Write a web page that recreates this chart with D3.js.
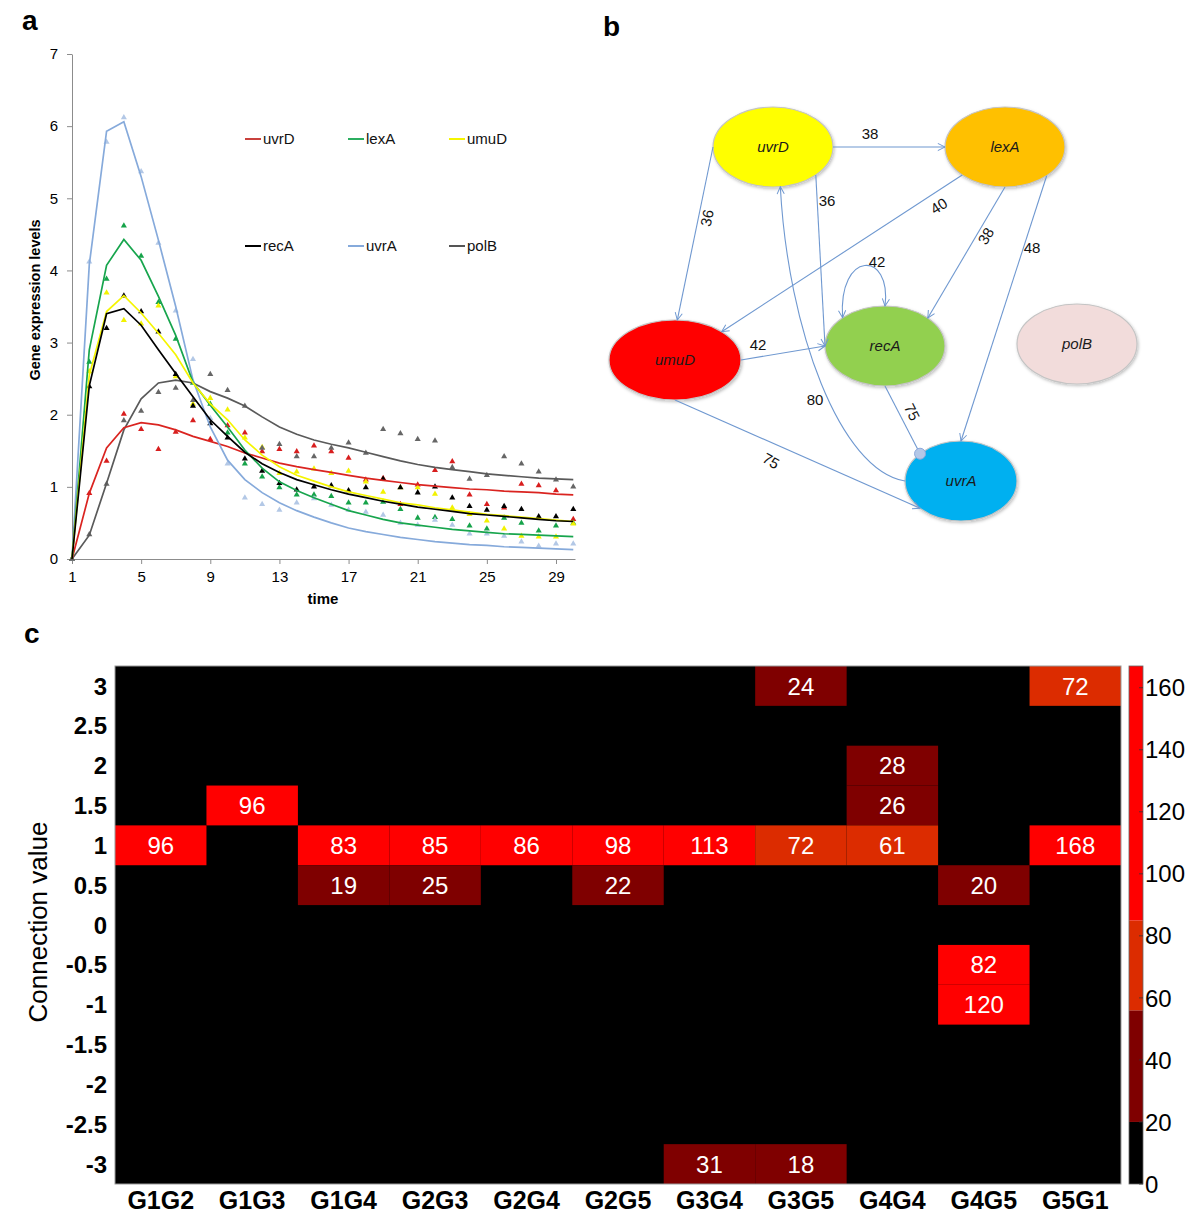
<!DOCTYPE html>
<html><head><meta charset="utf-8">
<script src="https://cdn.jsdelivr.net/npm/d3@7"></script>
<style>body{margin:0;background:#fff}svg{display:block;font-family:"Liberation Sans",Arial,sans-serif}</style>
</head><body>
<svg id="fig" width="1200" height="1223"></svg>
<script>
// ---------------- Panel a data ----------------
const timePoints = [1,2,3,4,5,6,7,8,9,10,11,12,13,14,15,16,17,18,19,20,21,22,23,24,25,26,27,28,29,30];
const genes = ["uvrD","lexA","umuD","recA","uvrA","polB"];
const fitUvrD = [0,0.91,1.54,1.82,1.89,1.86,1.79,1.70,1.63,1.56,1.47,1.40,1.33,1.28,1.24,1.20,1.16,1.12,1.09,1.06,1.03,1.01,0.99,0.97,0.96,0.94,0.93,0.92,0.90,0.89];
const fitLexA = [0,2.90,4.07,4.43,4.14,3.64,3.10,2.45,2.13,1.83,1.51,1.26,1.07,0.95,0.85,0.76,0.67,0.61,0.55,0.50,0.47,0.44,0.41,0.39,0.37,0.35,0.34,0.33,0.32,0.31];
const fitUmuD = [0,2.55,3.43,3.65,3.41,3.13,2.83,2.44,2.15,1.93,1.65,1.44,1.28,1.16,1.08,1.00,0.93,0.88,0.83,0.78,0.75,0.71,0.68,0.65,0.62,0.60,0.58,0.56,0.54,0.52];
const fitRecA = [0,2.40,3.40,3.47,3.24,2.90,2.57,2.25,1.93,1.70,1.48,1.32,1.20,1.10,1.03,0.96,0.90,0.85,0.80,0.76,0.72,0.69,0.66,0.63,0.61,0.59,0.57,0.55,0.53,0.52];
const fitUvrA = [0,4.08,5.93,6.06,5.30,4.42,3.50,2.48,1.83,1.37,1.10,0.92,0.78,0.67,0.58,0.50,0.43,0.38,0.34,0.30,0.27,0.24,0.22,0.20,0.19,0.17,0.16,0.15,0.14,0.13];
const fitPolB = [0,0.33,1.05,1.79,2.22,2.44,2.48,2.44,2.32,2.23,2.12,1.97,1.83,1.73,1.65,1.59,1.54,1.48,1.42,1.36,1.31,1.27,1.24,1.21,1.18,1.16,1.14,1.12,1.11,1.10];
const obsUvrD = [0,0.91,1.36,2.01,1.80,1.52,1.76,1.92,1.66,1.85,1.75,1.49,1.52,1.49,1.57,1.49,1.40,1.10,1.12,0.76,1.03,1.23,1.35,0.89,0.76,0.71,1.04,1.02,0.95,0.55];
const obsLexA = [0,2.73,3.88,4.62,4.20,3.56,3.05,2.44,2.15,1.75,1.32,1.14,0.99,0.89,0.89,0.87,0.78,0.78,0.79,0.69,0.57,0.58,0.55,0.46,0.42,0.57,0.50,0.39,0.46,0.50];
const obsUmuD = [0,2.60,3.69,3.31,3.26,3.51,2.53,2.15,2.23,2.07,1.68,1.55,1.19,1.21,1.25,1.19,1.22,1.07,0.93,0.99,0.99,0.90,0.71,0.62,0.53,0.42,0.32,0.31,0.31,0.49];
const obsRecA = [0,2.39,3.20,3.65,3.43,3.15,2.56,2.12,1.88,1.68,1.39,1.22,1.05,0.96,1.00,1.02,0.95,0.99,1.11,0.99,0.92,1.00,0.85,0.73,0.68,0.73,0.69,0.59,0.59,0.69];
const obsUvrA = [0,4.12,5.78,6.12,5.37,4.38,3.44,2.77,1.95,1.32,0.85,0.76,0.68,0.78,0.84,0.75,0.68,0.65,0.61,0.50,0.47,0.54,0.47,0.35,0.35,0.32,0.24,0.18,0.21,0.21];
const obsPolB = [0,0.34,1.04,1.92,2.05,2.31,2.37,2.20,2.56,2.34,2.12,1.54,1.59,1.42,1.42,1.54,1.61,1.47,1.80,1.74,1.66,1.64,1.27,1.11,1.16,1.42,1.32,1.21,1.10,1.00];
const yTicksA = [0,1,2,3,4,5,6,7];
const xTicksA = [1,5,9,13,17,21,25,29];

// ---------------- Panel b data ----------------
const netNodes = ["uvrD","lexA","umuD","recA","polB","uvrA"];
const netEdgeFrom = ["uvrD","uvrD","uvrD","lexA","lexA","lexA","recA","umuD","recA","umuD","uvrA"];
const netEdgeTo   = ["lexA","umuD","recA","umuD","recA","uvrA","recA","recA","uvrA","uvrA","uvrD"];
const netEdgeWeight = [38,36,36,40,38,48,42,42,75,75,80];

// ---------------- Panel c data ----------------
const pairs = ["G1G2","G1G3","G1G4","G2G3","G2G4","G2G5","G3G4","G3G5","G4G4","G4G5","G5G1"];
const connValues = [3,2.5,2,1.5,1,0.5,0,-0.5,-1,-1.5,-2,-2.5,-3];
const cellPair  = ["G1G2","G1G3","G1G4","G1G4","G2G3","G2G3","G2G4","G2G5","G2G5","G3G4","G3G4","G3G5","G3G5","G3G5","G4G4","G4G4","G4G4","G4G5","G4G5","G4G5","G5G1","G5G1"];
const cellConn  = [1,1.5,1,0.5,1,0.5,1,1,0.5,1,-3,3,1,-3,2,1.5,1,0.5,-0.5,-1,3,1];
const cellCount = [96,96,83,19,85,25,86,98,22,113,31,24,72,18,28,26,61,20,82,120,72,168];
const colorbarTicks = [0,20,40,60,80,100,120,140,160];
const colorbarEdges = [0,20,56,85,167];

// ================= drawing =================
const svg = d3.select("#fig");
svg.append("rect").attr("width",1200).attr("height",1223).attr("fill","#fff");

[["a",22,30],["b",603,36],["c",24,643]].forEach(([t,x,y])=>{
  svg.append("text").attr("x",x).attr("y",y).text(t)
    .attr("font-size",28).attr("font-weight","bold").attr("fill","#000");
});

// ---------- Panel a ----------
const geneColor = {uvrD:"#DA2420",lexA:"#17A54D",umuD:"#F5F500",recA:"#000000",uvrA:"#86AADB",polB:"#5A5A5A"};
const pointColor = {uvrD:"#D81E1E",lexA:"#16A34A",umuD:"#F2F200",recA:"#000000",uvrA:"#B3C8E6",polB:"#666666"};
const fitData = {uvrD:fitUvrD,lexA:fitLexA,umuD:fitUmuD,recA:fitRecA,uvrA:fitUvrA,polB:fitPolB};
const obsData = {uvrD:obsUvrD,lexA:obsLexA,umuD:obsUmuD,recA:obsRecA,uvrA:obsUvrA,polB:obsPolB};

const xA = d3.scaleLinear().domain([1,30.1]).range([72,575]);
const yA = d3.scaleLinear().domain([0,7]).range([559,54]);
const gA = svg.append("g");

const yAx = gA.append("g").attr("transform","translate(72,0)")
  .call(d3.axisLeft(yA).tickValues(yTicksA).tickFormat(d3.format("d")).tickSize(5).tickSizeOuter(0).tickPadding(9));
const xAx = gA.append("g").attr("transform","translate(0,559)")
  .call(d3.axisBottom(xA).tickValues(xTicksA).tickFormat(d3.format("d")).tickSize(5).tickSizeOuter(0).tickPadding(7));
[yAx,xAx].forEach(ax=>{
  ax.select(".domain").attr("stroke","#8c8c8c");
  ax.selectAll(".tick line").attr("stroke","#8c8c8c");
  ax.selectAll(".tick text").attr("font-size",15).attr("fill","#000").attr("font-family","Liberation Sans, Arial, sans-serif");
});
gA.append("text").attr("transform","translate(40,300) rotate(-90)").attr("text-anchor","middle")
  .attr("font-size",14.5).attr("font-weight","bold").text("Gene expression levels");
gA.append("text").attr("x",323).attr("y",604).attr("text-anchor","middle")
  .attr("font-size",15).attr("font-weight","bold").text("time");

const tri = d3.symbol().type(d3.symbolTriangle).size(16);
genes.forEach(g=>{
  gA.append("g").selectAll("path").data(obsData[g]).join("path")
    .attr("d",tri)
    .attr("transform",(d,i)=>`translate(${xA(timePoints[i])},${yA(d)})`)
    .attr("fill",pointColor[g]);
});
const lineGen = d3.line().x((d,i)=>xA(timePoints[i])).y(d=>yA(d));
["polB","uvrD","uvrA","lexA","umuD","recA"].forEach(g=>{
  gA.append("path").datum(fitData[g]).attr("d",lineGen)
    .attr("fill","none").attr("stroke",geneColor[g]).attr("stroke-width",1.7);
});
const legendPos = {uvrD:[245,139],lexA:[348,139],umuD:[449,139],recA:[245,246],uvrA:[348,246],polB:[449,246]};
const legendColor = {uvrD:"#C9413D",lexA:"#2BAE60",umuD:"#F5F500",recA:"#000",uvrA:"#86AADB",polB:"#555"};
genes.forEach(g=>{
  const [lx,ly] = legendPos[g];
  gA.append("line").attr("x1",lx).attr("x2",lx+16).attr("y1",ly).attr("y2",ly)
    .attr("stroke",legendColor[g]).attr("stroke-width",2);
  gA.append("text").attr("x",lx+18).attr("y",ly).attr("dy","0.35em")
    .attr("font-size",15).attr("fill","#111").text(g);
});

// ---------- Panel b ----------
const nodeLayout = {
  uvrD:{cx:773,cy:147,rx:60,ry:40,fill:"#FFFF00"},
  lexA:{cx:1005,cy:147,rx:60,ry:40,fill:"#FFC000"},
  umuD:{cx:675,cy:360,rx:66,ry:40,fill:"#FF0000"},
  recA:{cx:885,cy:346,rx:60,ry:40,fill:"#92D050"},
  polB:{cx:1077,cy:344,rx:60,ry:40,fill:"#F2DCDB"},
  uvrA:{cx:961,cy:481,rx:56,ry:40,fill:"#00B0F0"}
};
const edgeLayout = [
  {a0:0,a1:180,lab:[870,134,0]},
  {a0:180,a1:-88,lab:[707,218,-78.6]},
  {a0:44.5,a1:180,lab:[827,201,0]},
  {a0:135.5,a1:-45,lab:[939,206,-33]},
  {a0:90,a1:-44.5,lab:[986,236,-60]},
  {a0:46,a1:-90,lab:[1032,248,0]},
  {a0:-135,a1:-90,c:[[838,250],[892,250]],lab:[877,262,0],both:true},
  {a0:0,a1:180,lab:[758,345,0]},
  {a0:90,a1:-137,lab:[912,412,63],dot:true},
  {a0:90,a1:137,lab:[771,461,30]},
  {a0:180,a1:83,c:[[840,470],[788,330]],lab:[815,400,0]}
];
const edgeColor = "#6F98D0";
const defs = svg.append("defs");
defs.append("marker").attr("id","arr").attr("viewBox","0 0 10 10").attr("refX",9).attr("refY",5)
  .attr("markerWidth",9).attr("markerHeight",9).attr("markerUnits","userSpaceOnUse").attr("orient","auto-start-reverse")
  .append("path").attr("d","M1,1 L9,5 L1,9").attr("fill","none").attr("stroke",edgeColor).attr("stroke-width",1.1);
defs.append("filter").attr("id","shadow").append("feDropShadow")
  .attr("dx",1).attr("dy",1.5).attr("stdDeviation",1.5).attr("flood-color","#000").attr("flood-opacity",0.25);

const gB = svg.append("g");
const onEllipse = (n,deg)=>{const L=nodeLayout[n],t=deg*Math.PI/180;return [L.cx+L.rx*Math.cos(t),L.cy+L.ry*Math.sin(t)];};

gB.selectAll("ellipse").data(netNodes).join("ellipse")
  .attr("cx",d=>nodeLayout[d].cx).attr("cy",d=>nodeLayout[d].cy)
  .attr("rx",d=>nodeLayout[d].rx).attr("ry",d=>nodeLayout[d].ry)
  .attr("fill",d=>nodeLayout[d].fill).attr("stroke","#c4c4c4").attr("stroke-width",1.2)
  .attr("filter","url(#shadow)");
gB.selectAll("text.node").data(netNodes).join("text").attr("class","node")
  .attr("x",d=>nodeLayout[d].cx).attr("y",d=>nodeLayout[d].cy).attr("dy","0.35em")
  .attr("text-anchor","middle").attr("font-style","italic").attr("font-size",15).attr("fill","#1a1a1a")
  .text(d=>d);

netEdgeWeight.forEach((w,i)=>{
  const L = edgeLayout[i];
  const s = onEllipse(netEdgeFrom[i],L.a0), e = onEllipse(netEdgeTo[i],L.a1);
  const p = d3.path();
  p.moveTo(s[0],s[1]);
  if(L.c){p.bezierCurveTo(L.c[0][0],L.c[0][1],L.c[1][0],L.c[1][1],e[0],e[1]);}
  else p.lineTo(e[0],e[1]);
  const path = gB.append("path").attr("d",p.toString()).attr("fill","none")
    .attr("stroke",edgeColor).attr("stroke-width",1.1);
  if(L.dot){
    gB.append("circle").attr("cx",e[0]).attr("cy",e[1]).attr("r",5.5)
      .attr("fill","#B4C7E7").attr("stroke","#8EA9DB").attr("stroke-width",1);
  } else {
    path.attr("marker-end","url(#arr)");
    if(L.both) path.attr("marker-start","url(#arr)");
  }
  gB.append("text").attr("transform",`translate(${L.lab[0]},${L.lab[1]}) rotate(${L.lab[2]})`)
    .attr("text-anchor","middle").attr("dy","0.35em").attr("font-size",15).attr("fill","#111").text(w);
});

// ---------- Panel c ----------
const xC = d3.scaleBand().domain(pairs).range([115,1121]);
const yC = d3.scaleBand().domain(connValues).range([666,1184]);
const colC = d3.scaleThreshold().domain([17,56,78]).range(["#000000","#7F0000","#DC2C00","#FF0000"]);
const gC = svg.append("g");
gC.append("rect").attr("x",115).attr("y",666).attr("width",1006).attr("height",518).attr("fill","#000");
gC.selectAll("rect.cell").data(cellCount).join("rect").attr("class","cell")
  .attr("x",(d,i)=>xC(cellPair[i])).attr("y",(d,i)=>yC(cellConn[i]))
  .attr("width",xC.bandwidth()).attr("height",yC.bandwidth()).attr("fill",d=>colC(d));
gC.selectAll("text.cell").data(cellCount).join("text").attr("class","cell")
  .attr("x",(d,i)=>xC(cellPair[i])+xC.bandwidth()/2).attr("y",(d,i)=>yC(cellConn[i])+yC.bandwidth()/2)
  .attr("dy","0.36em").attr("text-anchor","middle").attr("font-size",24).attr("fill","#fff").text(d=>d);
gC.append("rect").attr("x",115).attr("y",666).attr("width",1006).attr("height",518)
  .attr("fill","none").attr("stroke","#9a9a9a").attr("stroke-width",1);

gC.selectAll("text.ytick").data(connValues).join("text").attr("class","ytick")
  .attr("x",107).attr("y",d=>yC(d)+yC.bandwidth()/2).attr("dy","0.36em").attr("text-anchor","end")
  .attr("font-size",24).attr("font-weight","bold").text(d=>d);
gC.selectAll("text.xtick").data(pairs).join("text").attr("class","xtick")
  .attr("x",d=>xC(d)+xC.bandwidth()/2).attr("y",1209).attr("text-anchor","middle")
  .attr("font-size",25).attr("font-weight","bold").text(d=>d);
gC.append("text").attr("transform","translate(47,922) rotate(-90)").attr("text-anchor","middle")
  .attr("font-size",26).text("Connection value");

const yCb = d3.scaleLinear().domain([0,167]).range([1184,666]);
const cbBins = d3.pairs(colorbarEdges);
gC.selectAll("rect.cb").data(cbBins).join("rect").attr("class","cb")
  .attr("x",1129).attr("width",14).attr("y",d=>yCb(d[1])).attr("height",d=>yCb(d[0])-yCb(d[1]))
  .attr("fill",d=>colC((d[0]+d[1])/2));
gC.append("rect").attr("x",1129).attr("y",666).attr("width",14).attr("height",518)
  .attr("fill","none").attr("stroke","#666").attr("stroke-width",0.8);
gC.selectAll("line.cbt").data(colorbarTicks).join("line").attr("class","cbt")
  .attr("x1",1139).attr("x2",1143).attr("y1",d=>yCb(d)).attr("y2",d=>yCb(d))
  .attr("stroke","#333").attr("stroke-width",0.8);
gC.selectAll("text.cbt").data(colorbarTicks).join("text").attr("class","cbt")
  .attr("x",1145).attr("y",d=>yCb(d)).attr("dy","0.36em").attr("font-size",24).text(d=>d);
</script>
</body></html>
